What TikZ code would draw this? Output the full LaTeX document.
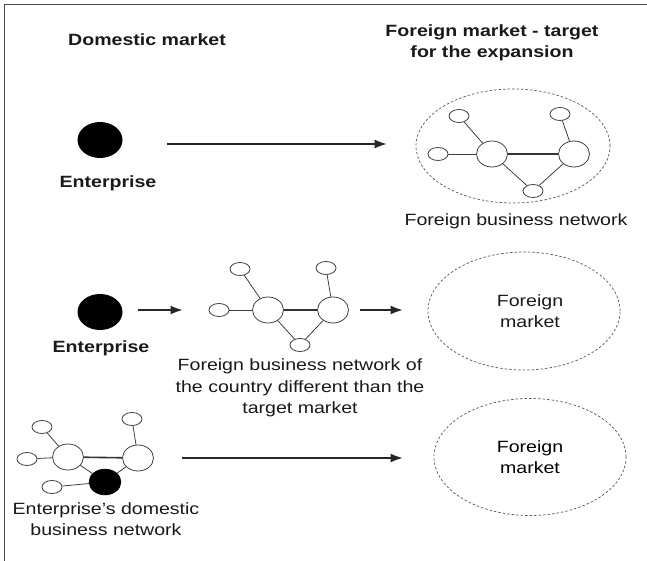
\documentclass[tikz,border=0pt]{standalone}
\usepackage{fontspec}
\setmainfont[FakeStretch=1.2]{Liberation Sans}
\usetikzlibrary{arrows.meta,shapes.geometric}
\begin{document}
\begin{tikzpicture}[x=1pt,y=-1pt,
  lbl/.style={font=\fontsize{16.3}{21.5}\selectfont, align=center, inner sep=0pt, text=black!90},
  blbl/.style={lbl, font=\fontsize{16.3}{21.5}\selectfont\bfseries},
  smallnode/.style={ellipse, draw=black!75, line width=0.8pt, fill=white, minimum width=20pt, minimum height=13pt, inner sep=0pt},
  bignode/.style={ellipse, draw=black!75, line width=0.8pt, fill=white, minimum width=31pt, minimum height=26pt, inner sep=0pt},
  entnode/.style={ellipse, fill=black, minimum width=45pt, minimum height=36pt, inner sep=0pt},
  entsmall/.style={ellipse, fill=black, draw=black, minimum width=32pt, minimum height=26pt, inner sep=0pt},
  market/.style={ellipse, draw=black!65, line width=0.7pt, dash pattern=on 2.5pt off 2pt, inner sep=0pt},
  netedge/.style={draw=black!75, line width=0.8pt},
  thickedge/.style={draw=black!80, line width=1.6pt},
  arr/.style={draw=black!85, line width=1.5pt, -{Latex[length=12pt,width=9pt]}},
  frameline/.style={draw=black!70, line width=1pt}
]
\useasboundingbox (0,0) rectangle (647,561);
\fill[white] (0,0) rectangle (647,561);
% frame
\coordinate (fc) at (4,5);
\coordinate (ftr) at (647,5);
\coordinate (fbl) at (4,561);
\draw[frameline] (ftr) -- (fc) -- (fbl);

% headings
\node[blbl] (hdom) at (147,40) {Domestic market};
\node[blbl] (hfor) at (492,43) {Foreign market - target\\for the expansion};

% ---------- Row 1
\node[entnode] (e1) at (100,140) {};
\node[blbl] (e1l) at (108,183) {Enterprise};
\node[market, minimum width=194pt, minimum height=114pt] (mk1) at (513,146) {};
\node[smallnode] (n1tl) at (459,116) {};
\node[smallnode] (n1tr) at (560,114) {};
\node[smallnode] (n1l) at (438,154) {};
\node[bignode] (n1bl) at (492,154) {};
\node[bignode] (n1br) at (574,154) {};
\node[smallnode] (n1b) at (533,191) {};
\draw[netedge] (n1tl) -- (n1bl);
\draw[netedge] (n1tr) -- (n1br);
\draw[netedge] (n1l) -- (n1bl);
\draw[thickedge] (n1bl) -- (n1br);
\draw[netedge] (n1bl) -- (n1b);
\draw[netedge] (n1br) -- (n1b);
\node[lbl] (mk1l) at (516,221) {Foreign business network};
\draw[arr, shorten <=44pt, shorten >=29pt] ([yshift=-4pt]e1.east) -- ([yshift=-4pt]e1.east -| mk1.west);

% ---------- Row 2
\node[entnode] (e2) at (100,312) {};
\node[blbl] (e2l) at (101,348) {Enterprise};
\node[smallnode] (n2tl) at (240,269) {};
\node[smallnode] (n2tr) at (326,268) {};
\node[smallnode] (n2l) at (219,310) {};
\node[bignode] (n2bl) at (268,310) {};
\node[bignode] (n2br) at (333,310) {};
\node[smallnode] (n2b) at (300,345) {};
\draw[netedge] (n2tl) -- (n2bl);
\draw[netedge] (n2tr) -- (n2br);
\draw[netedge] (n2l) -- (n2bl);
\draw[thickedge] (n2bl) -- (n2br);
\draw[netedge] (n2bl) -- (n2b);
\draw[netedge] (n2br) -- (n2b);
\node[lbl] (n2lab) at (300,388) {Foreign business network of\\the country different than the\\target market};
\node[market, minimum width=192pt, minimum height=118pt] (mk2) at (524,311) {};
\node[lbl] (mk2l) at (530,311) {Foreign\\market};
\draw[arr, shorten <=15.5pt, shorten >=26pt] (e2.east |- n2l.west) -- (n2l.west);
\draw[arr, shorten <=11.5pt, shorten >=25pt] (n2br.east) -- (n2br.east -| mk2.west);

% ---------- Row 3
\node[smallnode] (n3tl) at (42,427) {};
\node[smallnode] (n3tr) at (132,419) {};
\node[smallnode] (n3l) at (27,459) {};
\node[bignode] (n3bl) at (68,457) {};
\node[bignode] (n3br) at (138,458) {};
\node[entsmall] (n3e) at (105,482) {};
\node[smallnode] (n3bs) at (52,487) {};
\draw[netedge] (n3tl) -- (n3bl);
\draw[netedge] (n3tr) -- (n3br);
\draw[netedge] (n3l) -- (n3bl);
\draw[thickedge] (n3bl) -- (n3br);
\draw[netedge] (n3bl) -- (n3e);
\draw[netedge] (n3br) -- (n3e);
\draw[netedge] (n3bs) -- (n3e);
\node[lbl] (n3lab) at (106,519) {Enterprise's domestic\\business network};
\node[market, minimum width=192pt, minimum height=117pt, align=center, font=\fontsize{16.3}{21.5}\selectfont] (mk3) at (530,457) {Foreign\\market};
\draw[arr, shorten <=28.5pt, shorten >=31pt] (n3br.east) -- (n3br.east -| mk3.west);
\end{tikzpicture}
\end{document}
